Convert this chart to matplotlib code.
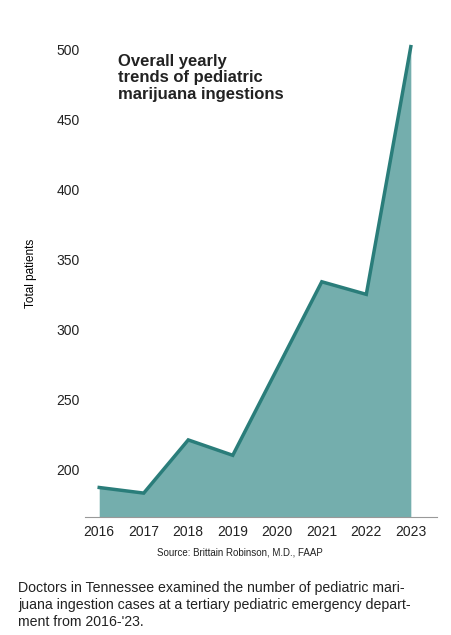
import matplotlib
matplotlib.use("Agg")
import matplotlib.pyplot as plt

years = [2016, 2017, 2018, 2019, 2020, 2021, 2022, 2023]
patients = [187, 183, 221, 210, 272, 334, 325, 502]
yticks = [200, 250, 300, 350, 400, 450, 500]

plt.rcParams['font.family'] = ['Liberation Sans', 'DejaVu Sans']

fig = plt.figure(figsize=(4.52, 6.35), dpi=100)
ax = fig.add_axes([0.188, 0.186, 0.779, 0.767])
ax.fill_between(years, patients, 160, color='#74AEAD', lw=0)
ax.plot(years, patients, color='#2A7D7A', lw=2.5, solid_joinstyle='miter')
ax.set_ylim(166, 514)
ax.set_xlim(2015.68, 2023.59)
ax.set_xticks(years)
ax.set_yticks(yticks)
ax.tick_params(labelsize=10, length=0, colors='#222222')
ax.tick_params(axis='x', pad=6)
for s in ['left', 'right', 'top']:
    ax.spines[s].set_visible(False)
ax.spines['bottom'].set_color('#999999')
ax.set_ylabel('Total patients', fontsize=8.5, labelpad=14)
ax.text(0.095, 0.95, 'Overall yearly\ntrends of pediatric\nmarijuana ingestions',
        transform=ax.transAxes, fontsize=12, fontweight='bold', va='top',
        color='#222222', linespacing=1.1)
fig.text(0.53, 0.125, 'Source: Brittain Robinson, M.D., FAAP', fontsize=7,
         ha='center', color='#222222')
fig.text(0.04, 0.085, "Doctors in Tennessee examined the number of pediatric mari-\n"
         "juana ingestion cases at a tertiary pediatric emergency depart-\n"
         "ment from 2016-'23.", fontsize=10.2, va='top', color='#222222',
         linespacing=1.25)
fig.savefig('out.png', dpi=100)
